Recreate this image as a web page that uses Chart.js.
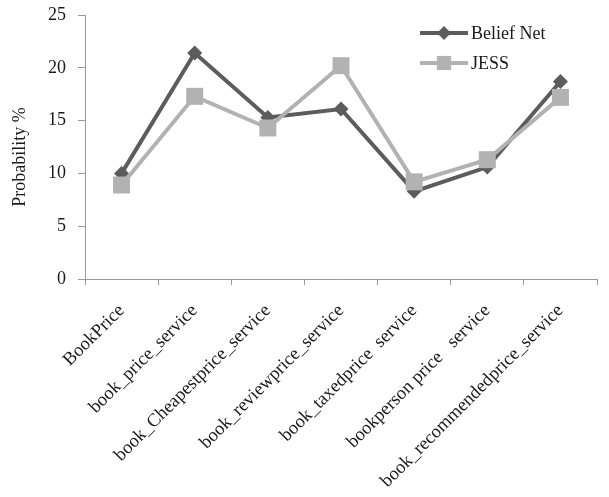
<!DOCTYPE html>
<html>
<head>
<meta charset="utf-8">
<script src="https://cdn.jsdelivr.net/npm/chart.js@4"></script>
<style>
  html, body { margin: 0; padding: 0; background: #ffffff; }
  #wrap { width: 609px; height: 497px; position: relative; }
</style>
</head>
<body>
<div id="wrap"><canvas id="c"></canvas></div>
<script>
// Service categories along the x axis
const categories = [
  'BookPrice',
  'book_price_service',
  'book_Cheapestprice_service',
  'book_reviewprice_service',
  'book_taxedprice  service',
  'bookperson price   service',
  'book_recommendedprice_service'
];

// Probability (%) per service
const beliefNet = [10.0, 21.4, 15.3, 16.1, 8.3, 10.6, 18.7];
const jess      = [8.9, 17.3, 14.3, 20.2, 9.2, 11.3, 17.2];

// Y axis range and title
const yMin = 0;
const yMax = 25;
const yStep = 5;
const yTitle = 'Probability %';

const FONT = '"Liberation Serif", "Times New Roman", serif';
const TEXT = '#1a1a1a';
const AXIS = '#9a9a9a';

// Legend inside the plot (top right) plus the rotated y-axis title
const annotations = {
  id: 'annotations',
  afterDraw(chart) {
    const ctx = chart.ctx;
    const x0 = 420, x1 = 468, xm = 444, tx = 471;
    const rows = [33, 63];
    ctx.save();
    chart.data.datasets.forEach((ds, i) => {
      const y = rows[i];
      ctx.strokeStyle = ds.borderColor;
      ctx.lineWidth = ds.borderWidth;
      ctx.beginPath();
      ctx.moveTo(x0, y);
      ctx.lineTo(x1, y);
      ctx.stroke();
      ctx.fillStyle = ds.pointBackgroundColor;
      ctx.strokeStyle = ds.pointBackgroundColor;
      Chart.helpers.drawPoint(ctx, {
        pointStyle: ds.pointStyle,
        radius: ds.legendRadius,
        borderWidth: 0,
        rotation: 0
      }, xm, y);
      ctx.fillStyle = TEXT;
      ctx.font = '18px ' + FONT;
      ctx.textBaseline = 'middle';
      ctx.textAlign = 'left';
      ctx.fillText(ds.label, tx, y + 1);
    });

    ctx.translate(20, 157);
    ctx.rotate(-Math.PI / 2);
    ctx.fillStyle = TEXT;
    ctx.font = '18px ' + FONT;
    ctx.textAlign = 'center';
    ctx.textBaseline = 'middle';
    ctx.fillText(yTitle, 0, 0);
    ctx.restore();
  }
};

new Chart(document.getElementById('c'), {
  type: 'line',
  data: {
    labels: categories,
    datasets: [
      {
        label: 'Belief Net',
        data: beliefNet,
        borderColor: '#5c5c5c',
        backgroundColor: '#5c5c5c',
        pointBackgroundColor: '#5c5c5c',
        pointBorderColor: '#5c5c5c',
        borderWidth: 4,
        pointStyle: 'rectRot',
        pointRadius: 7.5,
        pointBorderWidth: 0,
        legendRadius: 7,
        tension: 0,
        order: 1
      },
      {
        label: 'JESS',
        data: jess,
        borderColor: '#b2b2b2',
        backgroundColor: '#b2b2b2',
        pointBackgroundColor: '#b2b2b2',
        pointBorderColor: '#b2b2b2',
        borderWidth: 4,
        pointStyle: 'rect',
        pointRadius: 12,
        pointBorderWidth: 0,
        legendRadius: 10,
        tension: 0,
        order: 0
      }
    ]
  },
  options: {
    responsive: true,
    maintainAspectRatio: false,
    animation: false,
    layout: { padding: { left: 0, right: 6, top: 15, bottom: 0 } },
    plugins: {
      legend: { display: false },
      tooltip: { enabled: false }
    },
    scales: {
      x: {
        offset: true,
        grid: {
          offset: true,
          drawOnChartArea: false,
          drawTicks: true,
          tickLength: 6,
          color: AXIS,
          lineWidth: 1
        },
        border: { display: true, color: AXIS, width: 1 },
        ticks: {
          color: TEXT,
          font: { family: FONT, size: 18.5 },
          minRotation: 45,
          maxRotation: 45,
          autoSkip: false,
          padding: 15
        },
        afterFit(scale) { scale.height = 218; }
      },
      y: {
        min: yMin,
        max: yMax,
        grid: {
          drawOnChartArea: false,
          drawTicks: true,
          tickLength: 7,
          color: AXIS,
          lineWidth: 1
        },
        border: { display: true, color: AXIS, width: 1 },
        ticks: {
          stepSize: yStep,
          color: TEXT,
          font: { family: FONT, size: 18 },
          padding: 12
        },
        afterFit(scale) {
          scale.width = 85;
          scale.paddingTop = 0;
          scale.paddingBottom = 0;
        }
      }
    }
  },
  plugins: [annotations]
});
</script>
</body>
</html>
